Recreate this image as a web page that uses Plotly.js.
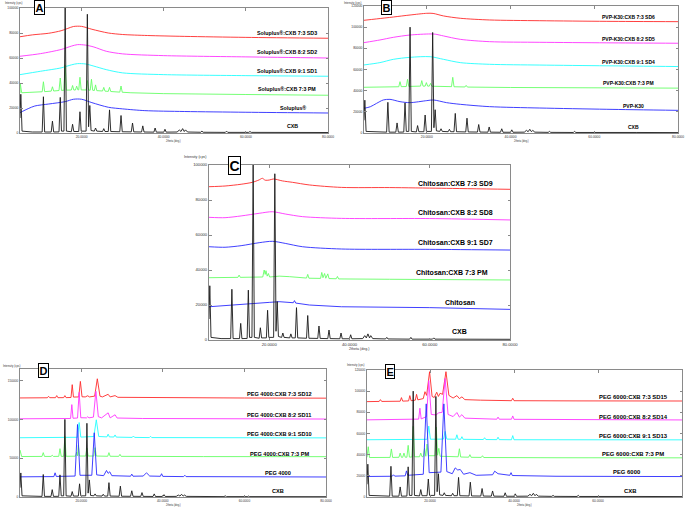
<!DOCTYPE html>
<html><head><meta charset="utf-8">
<script src="https://cdn.plot.ly/plotly-3.0.1.min.js"></script>
<style>html,body{margin:0;padding:0;background:#fff;}#plot{width:685px;height:507px;}</style>
</head><body><div id="plot"></div>
<script>
// ---------- DATA (2theta in deg, intensity in cps) ----------
const xTickVals = [20, 40, 60, 80];
const xTickText = ['20.0000', '40.0000', '60.0000', '80.0000'];

// CXB reference pattern (shared by all panels)
const cxb = [[5.0,12000],[5.2,31000],[5.5,1500],[8.0,800],[10.4,800],[10.7,29000],[11.0,800],[12.6,800],[12.9,9500],[13.2,800],[14.5,900],[14.8,28500],[15.1,1500],[15.7,1500],[16.0,100000],[16.3,1500],[17.5,1000],[17.8,7000],[18.1,1200],[19.3,1200],[19.6,17000],[19.9,1500],[21.1,1500],[21.4,95000],[21.7,5000],[22.0,22000],[22.3,2000],[23.1,1500],[23.4,4000],[23.7,1500],[25.1,1200],[25.4,3500],[25.7,1200],[26.5,1200],[26.8,18500],[27.1,1200],[29.3,1000],[29.6,14000],[29.9,1000],[32.1,900],[32.4,8000],[32.7,900],[34.6,800],[34.9,5700],[35.2,800],[37.6,700],[37.9,4000],[38.2,700],[40.0,700],[40.3,3000],[40.6,700],[43.3,800],[43.8,2500],[44.2,1200],[44.6,3500],[45.0,1200],[45.3,2500],[45.8,800],[49.0,600],[49.3,1500],[49.6,600],[55.0,500],[55.3,1500],[55.6,500],[60.7,500],[61.0,1200],[61.3,500],[70,500],[80,400]];

// Panel A – Soluplus
const aSd3 = [[5,77000],[8,78500],[12,79800],[15,81800],[16.5,83500],[18,85200],[20,85300],[22.5,83000],[26.5,80000],[30,78800],[36,78000],[45,77300],[60,76500],[80,75800]];
const aSd2 = [[5,61400],[10,63500],[15,66800],[17.5,69500],[19,70700],[21,70300],[23,68800],[26,65400],[30,63300],[40,61900],[60,60900],[80,60000]];
const aSd1 = [[5,46700],[10,49400],[15,52100],[17.5,54500],[19,55500],[21,55200],[23,53500],[26,50700],[30,48100],[40,46700],[60,45900],[80,45400]];
const aPm = [[5,32000],[5.05,40000],[5.4,32200],[10.4,33000],[10.7,41000],[11.0,33100],[12.6,33500],[12.9,37000],[13.2,33600],[14.5,34000],[14.8,44000],[15.1,34100],[15.7,34200],[16.0,54500],[16.3,34300],[17.5,34400],[17.8,38000],[18.1,34400],[18.5,34400],[18.8,37500],[19.1,34500],[19.3,34500],[19.6,44600],[19.9,34500],[21.1,34400],[21.4,42000],[21.7,34300],[22.1,34300],[22.4,43000],[22.7,34200],[23.1,34000],[23.4,38500],[23.7,33900],[25.1,33600],[25.4,36500],[25.7,33500],[26.5,33300],[26.8,36500],[27.1,33200],[29.3,32700],[29.6,37600],[29.9,32600],[32,32200],[40,31500],[60,30800],[80,30200]];
const aSolu = [[5,16300],[7,19500],[8.6,21600],[12,23200],[16,25100],[18,27000],[20,27000],[22.5,24300],[26.5,20600],[30,19300],[35.4,17900],[45,17200],[60,16600],[80,16000]];

// Panel B – PVP-K30
const bSd6 = [[5,106500],[8,107800],[12,109600],[16,111500],[20,113100],[21.5,113000],[24,110600],[28,108400],[35,106800],[47,106100],[63,105500],[80,105200]];
const bSd5 = [[5,85400],[8.8,87900],[12,90400],[16,92600],[20.8,93600],[22,93400],[24,91700],[28,88500],[35,86300],[47,85700],[63,85200],[80,84800]];
const bSd4 = [[5,64300],[8.8,66500],[12,69600],[16,71500],[20.8,72100],[24,69600],[28,66500],[35,64900],[47,64200],[63,63500],[80,62800]];
const bPm = [[5,43200],[13.3,43700],[13.6,48500],[13.9,43800],[15.1,43900],[15.4,50700],[15.7,44000],[18.5,44300],[18.8,49500],[19.1,44300],[19.6,44300],[19.9,47600],[20.2,44300],[20.6,44300],[20.9,46900],[21.2,44200],[25.9,43800],[26.2,52600],[26.5,43700],[29.1,43500],[29.4,45000],[29.7,43400],[40,43000],[60,42700],[80,42400]];
const bPvp = [[5,23300],[6.5,24800],[8,28000],[9.6,31200],[11.2,31800],[13.6,29600],[16,28700],[20,30600],[21.6,31200],[24.7,28700],[28,27100],[35,24900],[47,23600],[63,22400],[80,21400]];

// Panel C – Chitosan
const cSd9 = [[5,87600],[9,88000],[13,89000],[15.8,90100],[17.5,91500],[18.3,92400],[19,91300],[20,91400],[21,92000],[21.7,91800],[23.3,90900],[25.8,90100],[30,88600],[38,87200],[50,87100],[63,86700],[80,86100]];
const cSd8 = [[5,70100],[9,69900],[13,70900],[17.5,72400],[20.8,73300],[24,72000],[28.3,70500],[38,69500],[60,69400],[80,68600]];
const cSd7 = [[5,53300],[9,53000],[13,53900],[17.5,55600],[20.8,56400],[24,55200],[28.3,53300],[38,52000],[60,51800],[80,51400]];
const cPm = [[5,35600],[12.2,35800],[12.5,37100],[12.8,35800],[18.4,36000],[18.75,40000],[19.0,37500],[19.2,39600],[19.5,36500],[19.8,38000],[20.1,36000],[22.5,36500],[25,36200],[29.3,35400],[29.6,37500],[29.9,35300],[32.8,35200],[33.1,38600],[33.4,35600],[33.8,38000],[34.1,35300],[34.6,37800],[34.9,35100],[36.7,35000],[37,36300],[37.3,34900],[50,34700],[80,34300]];
const cChi = [[5,19000],[13.3,20600],[20,21500],[22.5,21900],[26,21300],[26.3,22500],[26.6,21100],[30,20000],[38,19000],[60,18500],[80,17500]];

// Panel D – PEG 4000
const dSd12 = [[5,127700],[11.7,127900],[12,129800],[12.3,128000],[13.7,128000],[14,130700],[14.3,128000],[15.7,128100],[16,130700],[16.3,128100],[17.5,128300],[17.8,144800],[18.1,128800],[19.4,129000],[19.8,149000],[20.2,129200],[21,129000],[21.6,130500],[22,129000],[23.3,130000],[23.95,152400],[24.6,130000],[25.2,129000],[26.6,132400],[27.1,129000],[28.3,130700],[29,128500],[35,128200],[45,127800],[60,127600],[80,127400]];
const dSd11 = [[5,100800],[15,101000],[17.4,101200],[17.7,119100],[18.0,101500],[19.1,101800],[19.5,134900],[19.9,102200],[21.3,102000],[21.6,103500],[21.9,102000],[23.0,103000],[23.6,136200],[24.2,103500],[25,102000],[26.6,108500],[27.1,102000],[28.3,106000],[28.8,101800],[35,101200],[45,100900],[60,100700],[80,100500]];
const dSd10 = [[5,76400],[19.1,77000],[19.5,96000],[19.9,77200],[23.1,78000],[23.7,99500],[24.3,78000],[26.3,77500],[26.6,81000],[26.9,77500],[28.0,77300],[28.3,80000],[28.6,77200],[32.5,76800],[32.8,78600],[33.1,76800],[36.7,76600],[37,78200],[37.3,76600],[50,76300],[80,76200]];
const dPm = [[5,60600],[5.4,52200],[10.4,52300],[10.7,57200],[11.0,52300],[12.6,52300],[12.9,53800],[13.2,52300],[14.5,52400],[14.8,62300],[15.1,52400],[15.7,52400],[16.0,78000],[16.3,52500],[18.6,52600],[18.9,58000],[19.1,53000],[19.3,66600],[19.6,52800],[21.1,52800],[21.4,63000],[21.7,52800],[23.1,52800],[23.4,63600],[23.7,52800],[26.5,52500],[26.8,57200],[27.1,52500],[29.2,52400],[29.5,55000],[29.8,52400],[35,52200],[50,52100],[80,52000]];
const dPeg = [[5,26000],[13.3,26300],[13.6,31200],[13.9,26500],[18.5,27000],[19.1,93500],[19.7,28000],[22.6,28000],[23.2,82800],[23.8,28500],[25.5,27500],[26.2,34200],[26.6,30500],[27,32500],[27.5,27500],[32.1,26800],[32.4,29500],[32.7,26800],[35.2,27000],[36,31200],[36.8,27000],[39.4,26700],[39.7,30000],[40,26600],[45.1,26300],[45.4,28000],[45.7,26300],[60,26000],[80,25800]];

// Panel E – PEG 6000
const eSd15 = [[5,90100],[7.9,90300],[8.2,92000],[8.5,90300],[12.9,90500],[13.2,93900],[13.5,90600],[14.9,90800],[15.2,95800],[15.5,91000],[16.5,91500],[16.8,97000],[17.1,91800],[18.4,93000],[18.8,99500],[19.2,96000],[19.9,118400],[20.5,95000],[21.0,94000],[21.6,99000],[22.0,95000],[22.4,98000],[23.0,97000],[23.8,118400],[24.5,96000],[25.5,93500],[26.4,95800],[27.0,93000],[27.6,94600],[28.3,92000],[32,91500],[39.4,91000],[39.7,93300],[40.0,91000],[55,90800],[80,90700]];
const eSd14 = [[5,72900],[15,73300],[17.3,73600],[17.6,83900],[17.9,73800],[19.2,76000],[19.7,110000],[20.3,78000],[21.5,77500],[22.0,79500],[22.9,80000],[23.6,112000],[24.3,78000],[25.5,76000],[26.4,79800],[27.0,75500],[27.6,77800],[28.3,74500],[35.9,73500],[36.2,75500],[36.5,73500],[39.4,73500],[39.7,76600],[40,73400],[55,73000],[80,72800]];
const eSd13 = [[5,54100],[19.3,54500],[19.7,67000],[20.1,54600],[23.2,54700],[23.6,62000],[24.0,54700],[26.1,54600],[26.4,58800],[26.7,54600],[27.3,54500],[27.6,57000],[27.9,54500],[32.7,54300],[33,56000],[33.3,54300],[35.9,54200],[36.2,56500],[36.5,54200],[39.4,54100],[39.7,58000],[40,54100],[80,54000]];
const ePm = [[5,37500],[5.3,47500],[5.6,37300],[10.5,37400],[10.8,45400],[11.1,37400],[12.6,37500],[12.9,41500],[13.2,37500],[13.5,37500],[13.8,41500],[14.1,37600],[14.5,37600],[14.8,48800],[15.1,37700],[15.7,37800],[16.0,66800],[16.3,38000],[17.5,38000],[17.8,41500],[18.1,38000],[18.4,38200],[18.7,46000],[19.0,38500],[19.3,50000],[19.6,39000],[21.2,39000],[21.5,66000],[21.8,39500],[22.1,46000],[22.4,38500],[26.7,38000],[27.0,45600],[27.3,37800],[29.2,37600],[29.5,40000],[29.8,37500],[32.2,37400],[32.5,39000],[32.8,37300],[50,37100],[80,37000]];
const ePeg = [[5,19400],[11,19600],[11.3,21000],[11.6,19700],[14.1,20000],[14.4,24700],[14.7,20500],[18.4,21500],[19.1,88000],[19.8,23000],[22.6,23500],[23.3,88000],[24.0,24000],[25.3,22000],[26.0,27500],[26.6,25500],[27.2,26000],[28,21500],[29.5,23000],[31,20500],[34.9,21000],[35.4,24400],[36.2,22000],[39,20500],[39.3,23000],[39.6,20300],[50,19600],[60,19500],[80,19300]];

// Series labels
const labelsA = ['Soluplus®:CXB 7:3 SD3','Soluplus®:CXB 8:2 SD2','Soluplus®:CXB 9:1 SD1','Soluplus®:CXB 7:3 PM','Soluplus®','CXB'];
const labelsB = ['PVP-K30:CXB 7:3 SD6','PVP-K30:CXB 8:2 SD5','PVP-K30:CXB 9:1 SD4','PVP-K30:CXB 7:3 PM','PVP-K30','CXB'];
const labelsC = ['Chitosan:CXB 7:3 SD9','Chitosan:CXB 8:2 SD8','Chitosan:CXB 9:1 SD7','Chitosan:CXB 7:3 PM','Chitosan','CXB'];
const labelsD = ['PEG 4000:CXB 7:3 SD12','PEG 4000:CXB 8:2 SD11','PEG 4000:CXB 9:1 SD10','PEG 4000:CXB 7:3 PM','PEG 4000','CXB'];
const labelsE = ['PEG 6000:CXB 7:3 SD15','PEG 6000:CXB 8:2 SD14','PEG 6000:CXB 9:1 SD13','PEG 6000:CXB 7:3 PM','PEG 6000','CXB'];
const panelLetters = ['A','B','C','D','E'];

// ---------- STYLE / LAYOUT ----------
const W = 685, H = 507;
const fx = x => x / W, fy = y => 1 - y / H;
const FONT = 'Liberation Sans, Arial, sans-serif';
const RED='#ff2a2a', MAG='#ff33ff', CYA='#22ffff', GRN='#66ff66', BLU='#2a2aff', BLK='#1a1a1a';

const panels = [
  {series:[aSd3,aSd2,aSd1,aPm,aSolu,cxb], colors:[RED,MAG,CYA,GRN,BLU,BLK], labels:labelsA,
   px:[20,328], py:[8,133], yr:[0,100000], ydt:20000, lab:[[287,33],[287,52],[287,71],[287,89],[293,108],[292,126]], lfs:5.3, tfs:3.3,
   box:[39.5,8], bfs:11, ytitle:[3,3, 'left'], xtitle:141, smooth:[1,1,1,0,1,0]},
  {series:[bSd6,bSd5,bSd4,bPm,bPvp,cxb], colors:[RED,MAG,CYA,GRN,BLU,BLK], labels:labelsB,
   px:[364,678], py:[6,133], yr:[0,120000], ydt:20000, lab:[[628,17],[628,39],[628,62],[628,83],[633,106],[633,127]], lfs:5.0, tfs:3.3,
   box:[386.5,8], bfs:11, ytitle:[342,2.5, 'left'], xtitle:141, smooth:[1,1,1,0,1,0]},
  {series:[cSd9,cSd8,cSd7,cPm,cChi,cxb], colors:[RED,MAG,BLU,GRN,BLU,BLK], labels:labelsC,
   px:[209,510], py:[165,340], yr:[0,100000], ydt:20000, lab:[[455,183],[455,212],[455,242],[452,272],[460,302],[460,331]], lfs:7.0, tfs:4.2,
   box:[234.5,165], bfs:14, ytitle:[208,157, 'right'], xtitle:349, smooth:[1,1,1,0,0,0]},
  {series:[dSd12,dSd11,dSd10,dPm,dPeg,cxb], colors:[RED,MAG,CYA,GRN,BLU,BLK], labels:labelsD,
   px:[20,326], py:[369,497], yr:[0,165000], ydt:50000, lab:[[279,394],[279,415],[279,434],[279,454],[278,473],[278,491]], lfs:5.6, tfs:3.2,
   box:[43,370.5], bfs:11, ytitle:[0.5,366, 'left'], xtitle:505, smooth:[0,0,0,0,0,0]},
  {series:[eSd15,eSd14,eSd13,ePm,ePeg,cxb], colors:[RED,MAG,CYA,GRN,BLU,BLK], labels:labelsE,
   px:[367,682], py:[370,497], yr:[0,120000], ydt:20000, lab:[[633,397],[633,417],[633,436],[633,454],[627,472],[630,491]], lfs:5.9, tfs:3.2,
   box:[389.5,371], bfs:11, ytitle:[345,365, 'left'], xtitle:505, smooth:[0,0,0,0,0,0]}
];

const traces = [];
const layout = {
  width: W, height: H, margin:{l:0,r:0,t:0,b:0}, paper_bgcolor:'#fff', plot_bgcolor:'#fff',
  showlegend:false, hovermode:false, font:{family:FONT, color:'#000'},
  annotations: []
};

panels.forEach((p, i) => {
  const n = i === 0 ? '' : String(i + 1);
  const xa = 'x' + n, ya = 'y' + n;
  p.series.forEach((s, k) => {
    traces.push({
      type:'scatter', mode:'lines', xaxis:xa, yaxis:ya,
      x: s.map(d => d[0]), y: s.map(d => d[1]),
      line:{color:p.colors[k], width:0.9, shape: p.smooth[k] ? 'spline' : 'linear', smoothing:0.8},
      hoverinfo:'skip'
    });
  });
  const yt = [];
  for (let v = 0; v <= p.yr[1]; v += p.ydt) yt.push(v);
  layout['xaxis' + n] = {
    domain:[fx(p.px[0]), fx(p.px[1])], anchor:ya, range:[5,80],
    tickvals:xTickVals, ticktext:xTickText, ticks:'inside', ticklen:2.5, tickcolor:'#888',
    showline:true, linecolor:'#8a8a8a', linewidth:1, mirror:'ticks', showgrid:false, zeroline:false,
    tickfont:{size:p.tfs, family:FONT, color:'#333'}, fixedrange:true
  };
  layout['yaxis' + n] = {
    domain:[fy(p.py[1]), fy(p.py[0])], anchor:xa, range:p.yr,
    tickvals:yt, ticktext:yt.map(String), ticks:'inside', ticklen:2.5, tickcolor:'#888',
    showline:true, linecolor:'#8a8a8a', linewidth:1, mirror:'ticks', showgrid:false, zeroline:false,
    tickfont:{size:p.tfs, family:FONT, color:'#333'}, fixedrange:true
  };
  p.labels.forEach((t, k) => {
    layout.annotations.push({xref:'paper', yref:'paper', x:fx(p.lab[k][0]), y:fy(p.lab[k][1]),
      xanchor:'center', yanchor:'middle', showarrow:false, text:'<b>' + t + '</b>',
      font:{size:p.lfs, family:FONT, color:'#000'}});
  });
  layout.annotations.push({xref:'paper', yref:'paper', x:fx(p.box[0]), y:fy(p.box[1]),
    xanchor:'center', yanchor:'middle', showarrow:false, text:'<b>' + panelLetters[i] + '</b>',
    font:{size:p.bfs, family:FONT, color:'#000'}, bgcolor:'#fff', bordercolor:'#000', borderwidth:1, borderpad:0.5});
  layout.annotations.push({xref:'paper', yref:'paper', x:fx(p.ytitle[0]), y:fy(p.ytitle[1]),
    xanchor:p.ytitle[2], yanchor:'middle', showarrow:false, text:'Intensity (cps)',
    font:{size: i === 2 ? 3.6 : 2.8, family:FONT, color:'#333'}});
  layout.annotations.push({xref:'paper', yref:'paper', x:fx((p.px[0] + p.px[1]) / 2), y:fy(p.xtitle),
    xanchor:'center', yanchor:'middle', showarrow:false, text:'2theta (deg.)',
    font:{size: i === 2 ? 3.6 : 2.6, family:FONT, color:'#333'}});
});

Plotly.newPlot('plot', traces, layout, {staticPlot:true, displayModeBar:false});
</script>
</body></html>
